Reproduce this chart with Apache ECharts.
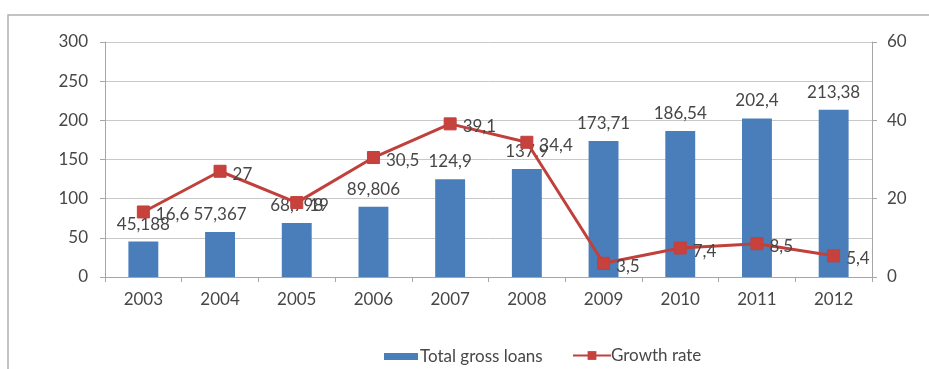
<!DOCTYPE html>
<html>
<head>
<meta charset="utf-8">
<script src="https://cdn.jsdelivr.net/npm/echarts@6/dist/echarts.min.js"></script>
<style>
  html, body { margin: 0; padding: 0; background: #fff; }
  #chart { width: 929px; height: 369px; }
</style>
</head>
<body>
<div id="chart"></div>
<script>
// Years on the category axis
const years = ['2003', '2004', '2005', '2006', '2007', '2008', '2009', '2010', '2011', '2012'];
// Total gross loans (left axis)
const totalGrossLoans = [45.188, 57.367, 68.798, 89.806, 124.9, 137.9, 173.71, 186.54, 202.4, 213.38];
// Growth rate (right axis)
const growthRate = [16.6, 27, 19, 30.5, 39.1, 34.4, 3.5, 7.4, 8.5, 5.4];

const FONT = 'Lato';
const TEXT = '#474747';
const commaDecimal = v => String(v).replace('.', ',');

const chart = echarts.init(document.getElementById('chart'), null, { renderer: 'canvas' });

chart.setOption({
  backgroundColor: '#ffffff',
  animation: false,
  textStyle: { fontFamily: FONT, color: TEXT },
  graphic: [{
    type: 'rect',
    shape: { x: 8, y: 15, width: 960, height: 420 },
    style: { fill: 'none', stroke: '#b0b0b0', lineWidth: 1.5 },
    silent: true,
    z: -1
  }],
  grid: { left: 105, right: 57, top: 42, bottom: 92, containLabel: false },
  legend: [{
    data: [{ name: 'Total gross loans', icon: 'rect' }],
    left: 379, top: 343,
    itemWidth: 34, itemHeight: 7, itemGap: 20,
    textStyle: { fontFamily: FONT, fontSize: 17, color: TEXT, padding: [0, 0, 0, -3] }
  }, {
    data: [{ name: 'Growth rate' }],
    left: 567, top: 342,
    itemWidth: 38, itemHeight: 11,
    textStyle: { fontFamily: FONT, fontSize: 17, color: TEXT, padding: [0, 0, 0, -5] }
  }],
  xAxis: {
    type: 'category',
    data: years,
    axisLine: { lineStyle: { color: '#a6a6a6', width: 1 } },
    axisTick: { show: true, alignWithLabel: false, length: 5, lineStyle: { color: '#a6a6a6' } },
    axisLabel: { fontFamily: FONT, fontSize: 17, color: TEXT, margin: 14 }
  },
  yAxis: [{
    type: 'value',
    min: 0, max: 300, interval: 50,
    axisLine: { show: true, lineStyle: { color: '#a6a6a6' } },
    axisTick: { show: true, length: 5, lineStyle: { color: '#a6a6a6' } },
    splitLine: { lineStyle: { color: '#c8c8c8', width: 1 } },
    axisLabel: { fontFamily: FONT, fontSize: 17, color: TEXT, margin: 17 }
  }, {
    type: 'value',
    min: 0, max: 60, interval: 20,
    position: 'right',
    axisLine: { show: true, lineStyle: { color: '#a6a6a6' } },
    axisTick: { show: true, length: 5, lineStyle: { color: '#a6a6a6' } },
    splitLine: { show: false },
    axisLabel: { fontFamily: FONT, fontSize: 17, color: TEXT, margin: 15 }
  }],
  series: [{
    name: 'Total gross loans',
    type: 'bar',
    yAxisIndex: 0,
    data: totalGrossLoans,
    barWidth: '39%',
    itemStyle: { color: '#4a7ebb' },
    label: {
      show: true, position: 'top', distance: 9,
      fontFamily: FONT, fontSize: 17, color: TEXT,
      formatter: p => commaDecimal(p.value)
    },
    z: 2
  }, {
    name: 'Growth rate',
    type: 'line',
    yAxisIndex: 1,
    data: growthRate,
    symbol: 'rect',
    symbolSize: 12,
    lineStyle: { color: '#c0403c', width: 3 },
    itemStyle: { color: '#c8423d', borderColor: '#c0403c' },
    label: {
      show: true, position: 'right', distance: 6, offset: [0, 3],
      fontFamily: FONT, fontSize: 17, color: TEXT,
      formatter: p => commaDecimal(p.value)
    },
    z: 3
  }]
});
</script>
</body>
</html>
